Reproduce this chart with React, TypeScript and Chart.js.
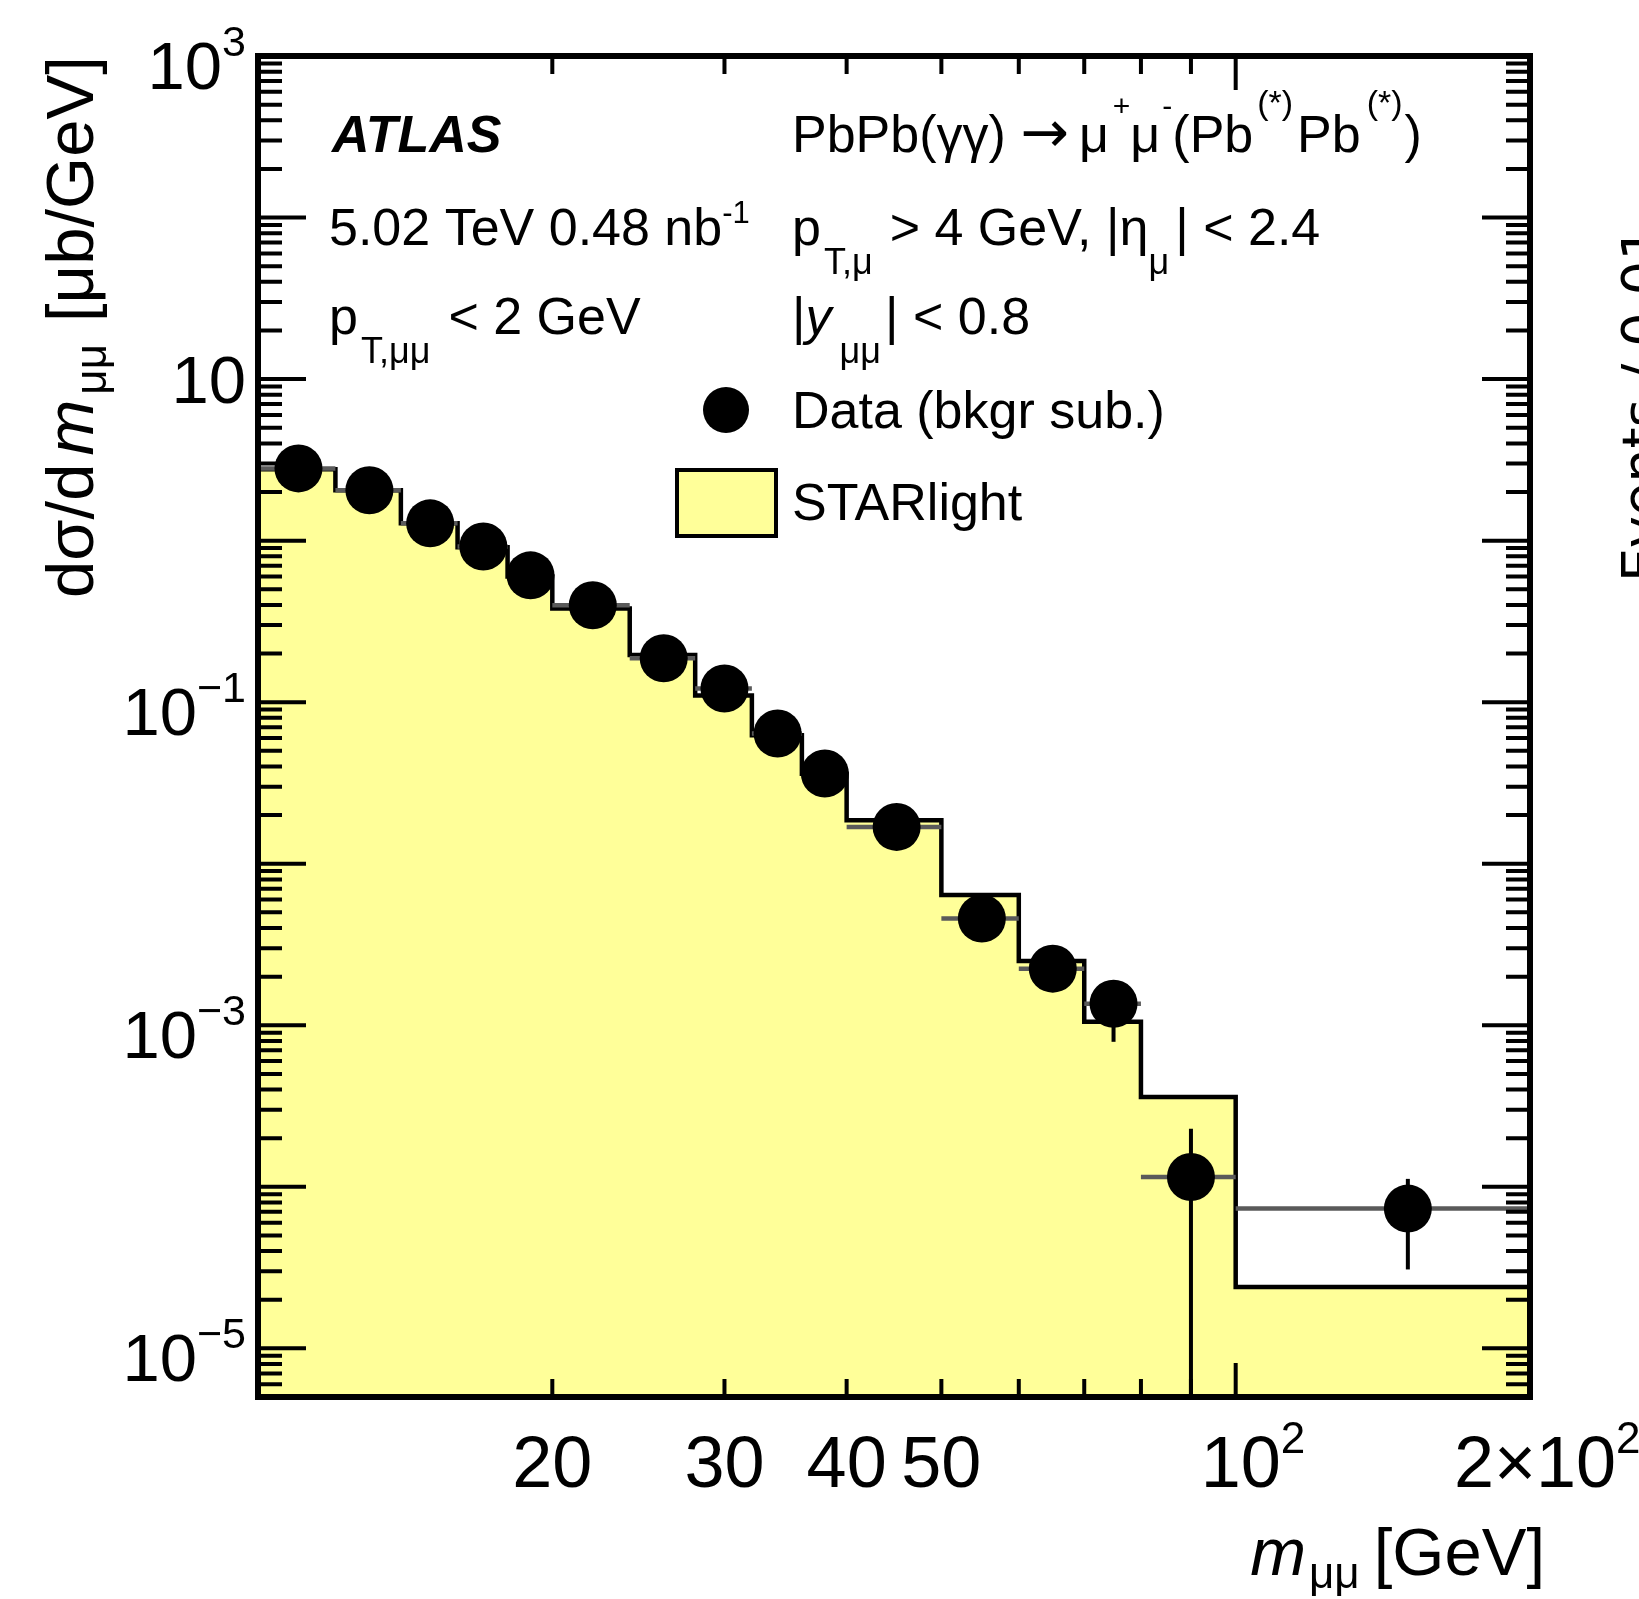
import React, { useEffect, useRef } from 'react';
import { Chart, registerables } from 'chart.js';

Chart.register(...registerables);

// ---------------- data ----------------
const binEdges = [10, 12, 14, 16, 18, 20, 24, 28, 32, 36, 40, 50, 60, 70, 80, 100, 200];
const starlight = [2.77, 2.05, 1.28, 0.91, 0.6, 0.38, 0.196, 0.11, 0.0625, 0.036, 0.0186, 0.0064, 0.0025, 0.00105, 0.00036, 0.000024];
const massCenters = [11, 13, 15, 17, 19, 22, 26, 30, 34, 38, 45, 55, 65, 75, 90, 150];
const dataValues = [2.8, 2.05, 1.28, 0.92, 0.61, 0.398, 0.187, 0.1216, 0.064, 0.0362, 0.0169, 0.00458, 0.00224, 0.00136, 0.000115, 0.0000733];
const dataHigh = [2.9, 2.13, 1.34, 0.97, 0.65, 0.425, 0.2, 0.131, 0.07, 0.04, 0.0188, 0.0052, 0.0026, 0.0019, 0.000229, 0.000112];
const dataLow = [2.7, 1.97, 1.22, 0.87, 0.57, 0.371, 0.174, 0.112, 0.058, 0.0324, 0.015, 0.0039, 0.00188, 0.00079, 0.0000001, 0.0000308];

const yDecades = [1e-5, 1e-4, 1e-3, 1e-2, 1e-1, 1, 10, 100, 1000];
const yMinorMult = [2, 3, 4, 5, 6, 7, 8, 9];
const yLabelValues = [1000, 10, 0.1, 0.001, 0.00001];
const yLabelMain = ['10', '10', '10', '10', '10'];
const yLabelSup = ['3', '', '\u22121', '\u22123', '\u22125'];
const xMinorTicks = [20, 30, 40, 50, 60, 70, 80, 90];
const xMajorTicks = [100];
const xLabelValues = [20, 30, 40, 50, 100, 200];
const xLabelMain = ['20', '30', '40', '50', '10', '2\u00d710'];
const xLabelSup = ['', '', '', '', '2', '2'];

const X_MIN = 10;
const X_MAX = 200;
const Y_MIN = 5e-6;
const Y_MAX = 1000;

const FILL = '#ffff99';
const FF = '"Liberation Sans", Arial, Helvetica, sans-serif';

type Part = { t: string; size: number; style?: string; dy?: number; gap?: number; family?: string };

function setFont(ctx: CanvasRenderingContext2D, size: number, style = '', family = FF) {
  ctx.font = `${style} ${size}px ${family}`.trim();
}

function partsWidth(ctx: CanvasRenderingContext2D, parts: Part[]) {
  let w = 0;
  for (const p of parts) {
    setFont(ctx, p.size, p.style, p.family);
    w += ctx.measureText(p.t).width + (p.gap || 0);
  }
  return w;
}

function drawParts(ctx: CanvasRenderingContext2D, x: number, y: number, parts: Part[]) {
  let cx = x;
  ctx.textAlign = 'left';
  ctx.textBaseline = 'alphabetic';
  for (const p of parts) {
    setFont(ctx, p.size, p.style, p.family);
    ctx.fillText(p.t, cx, y + (p.dy || 0));
    cx += ctx.measureText(p.t).width + (p.gap || 0);
  }
  return cx;
}

const T = 52; // annotation text size
const SUB = 36;
const SUBDY = 29;
const SUP = 34;

const overlayPlugin = {
  id: 'atlasOverlay',
  afterDatasetDraw(chart: any, args: any) {
    if (args.index !== 1) return;
    const ctx: CanvasRenderingContext2D = chart.ctx;
    const xs = chart.scales.x;
    const ys = chart.scales.y;
    const a = chart.chartArea;
    ctx.save();
    ctx.beginPath();
    ctx.rect(a.left, a.top, a.right - a.left, a.bottom - a.top);
    ctx.clip();
    // horizontal (bin width) error bars
    ctx.strokeStyle = '#5a5a5a';
    ctx.lineWidth = 4.5;
    for (let i = 0; i < massCenters.length; i++) {
      const py = ys.getPixelForValue(dataValues[i]);
      ctx.beginPath();
      ctx.moveTo(xs.getPixelForValue(binEdges[i]), py);
      ctx.lineTo(xs.getPixelForValue(binEdges[i + 1]), py);
      ctx.stroke();
    }
    // vertical error bars
    ctx.strokeStyle = '#000';
    ctx.lineWidth = 4;
    for (let i = 0; i < massCenters.length; i++) {
      const px = xs.getPixelForValue(massCenters[i]);
      ctx.beginPath();
      ctx.moveTo(px, ys.getPixelForValue(dataLow[i]));
      ctx.lineTo(px, ys.getPixelForValue(dataHigh[i]));
      ctx.stroke();
    }
    ctx.restore();
  },
  afterDatasetsDraw(chart: any) {
    const ctx: CanvasRenderingContext2D = chart.ctx;
    const xs = chart.scales.x;
    const ys = chart.scales.y;
    const a = chart.chartArea;
    ctx.save();
    ctx.fillStyle = '#000';
    ctx.strokeStyle = '#000';

    // ticks (inside the frame, on all four sides)
    ctx.lineWidth = 4;
    const yTick = (v: number, len: number) => {
      const py = ys.getPixelForValue(v);
      if (py < a.top - 0.5 || py > a.bottom + 0.5) return;
      ctx.beginPath();
      ctx.moveTo(a.left, py);
      ctx.lineTo(a.left + len, py);
      ctx.moveTo(a.right, py);
      ctx.lineTo(a.right - len, py);
      ctx.stroke();
    };
    for (const d of yDecades) {
      yTick(d, 48);
      for (const m of yMinorMult) yTick(d * m, 24);
    }
    for (const m of [5, 6, 7, 8, 9]) yTick(1e-6 * m, 24);
    const xTick = (v: number, len: number) => {
      const px = xs.getPixelForValue(v);
      ctx.beginPath();
      ctx.moveTo(px, a.bottom);
      ctx.lineTo(px, a.bottom - len);
      ctx.moveTo(px, a.top);
      ctx.lineTo(px, a.top + len);
      ctx.stroke();
    };
    for (const v of xMinorTicks) xTick(v, 18);
    for (const v of xMajorTicks) xTick(v, 34);

    // frame
    ctx.lineWidth = 6;
    ctx.strokeRect(a.left, a.top, a.right - a.left, a.bottom - a.top);

    // y tick labels
    for (let i = 0; i < yLabelValues.length; i++) {
      const py = ys.getPixelForValue(yLabelValues[i]);
      const hasSup = yLabelSup[i] !== '';
      const parts: Part[] = [{ t: yLabelMain[i], size: 67 }];
      if (hasSup) parts.push({ t: yLabelSup[i], size: 43, dy: -33 });
      const w = partsWidth(ctx, parts);
      drawParts(ctx, a.left - 12 - w, py + 24 + (hasSup ? 9 : 0), parts);
    }
    // x tick labels
    for (let i = 0; i < xLabelValues.length; i++) {
      const px = xs.getPixelForValue(xLabelValues[i]);
      setFont(ctx, 72);
      const wm = ctx.measureText(xLabelMain[i]).width;
      const parts: Part[] = [{ t: xLabelMain[i], size: 72 }];
      if (xLabelSup[i]) parts.push({ t: xLabelSup[i], size: 44, dy: -34 });
      drawParts(ctx, px - wm / 2 + (xLabelSup[i] ? 5 : 0), a.bottom + 90, parts);
    }

    // axis titles
    const xTitle: Part[] = [
      { t: 'm', size: 67, style: 'italic', gap: 3 },
      { t: '\u03bc\u03bc', size: 44, dy: 13, gap: 14 },
      { t: '[GeV]', size: 67 },
    ];
    const xtw = partsWidth(ctx, xTitle);
    drawParts(ctx, 1545 - xtw, a.bottom + 178, xTitle);

    const yTitle: Part[] = [
      { t: 'd\u03c3/d', size: 67, gap: 8 },
      { t: 'm', size: 67, style: 'italic', gap: 5 },
      { t: '\u03bc\u03bc', size: 44, dy: 13, gap: 22 },
      { t: '[\u03bcb/GeV]', size: 67 },
    ];
    ctx.save();
    ctx.translate(93, 598);
    ctx.rotate(-Math.PI / 2);
    drawParts(ctx, 0, 0, yTitle);
    ctx.restore();

    // annotation texts
    setFont(ctx, T, 'italic bold');
    ctx.fillText('ATLAS', 332, 152);

    drawParts(ctx, 792, 152, [
      { t: 'PbPb(\u03b3\u03b3) ', size: T },
      { t: '\u2192', size: 58, family: '"DejaVu Sans", sans-serif', gap: 10 },
      { t: '\u03bc', size: T, gap: 4 },
      { t: '+', size: 30, dy: -36 },
      { t: '\u03bc', size: T, gap: 2 },
      { t: '-', size: 30, dy: -36 },
      { t: '(Pb', size: T, gap: 4 },
      { t: '(*)', size: SUP, dy: -38, gap: 4 },
      { t: 'Pb', size: T, gap: 6 },
      { t: '(*)', size: SUP, dy: -38, gap: 2 },
      { t: ')', size: T },
    ]);
    drawParts(ctx, 329, 245, [
      { t: '5.02 TeV 0.48 nb', size: T },
      { t: '-1', size: 31, dy: -22 },
    ]);
    drawParts(ctx, 792, 245, [
      { t: 'p', size: T, gap: 3 },
      { t: 'T,\u03bc', size: SUB, dy: SUBDY, gap: 17 },
      { t: '> 4 GeV, |\u03b7', size: T },
      { t: '\u03bc', size: SUB, dy: SUBDY, gap: 6 },
      { t: '| < 2.4', size: T },
    ]);
    drawParts(ctx, 329, 334, [
      { t: 'p', size: T, gap: 3 },
      { t: 'T,\u03bc\u03bc', size: SUB, dy: SUBDY, gap: 18 },
      { t: '< 2 GeV', size: T },
    ]);
    drawParts(ctx, 792, 334, [
      { t: '|', size: T },
      { t: 'y', size: T, style: 'italic', gap: 8 },
      { t: '\u03bc\u03bc', size: SUB, dy: SUBDY, gap: 4 },
      { t: '| < 0.8', size: T },
    ]);

    // legend
    ctx.beginPath();
    ctx.arc(726, 410, 23, 0, Math.PI * 2);
    ctx.fill();
    drawParts(ctx, 792, 428, [{ t: 'Data (bkgr sub.)', size: T }]);
    ctx.fillStyle = FILL;
    ctx.fillRect(677, 470, 99, 66);
    ctx.lineWidth = 4;
    ctx.strokeStyle = '#000';
    ctx.strokeRect(677, 470, 99, 66);
    ctx.fillStyle = '#000';
    drawParts(ctx, 792, 520, [{ t: 'STARlight', size: T }]);

    // clipped neighbouring-panel title at the right edge
    ctx.save();
    ctx.font = '54px "DejaVu Sans", sans-serif';
    ctx.translate(1621 + 54 * 0.729, 582);
    ctx.rotate(-Math.PI / 2);
    ctx.fillText('Events / 0.01', 0, 0);
    ctx.restore();

    ctx.restore();
  },
};

export default function App() {
  const ref = useRef<HTMLCanvasElement | null>(null);
  useEffect(() => {
    const canvas = ref.current;
    if (!canvas) return;
    const histPoints = binEdges.slice(0, -1).map((x, i) => ({ x, y: starlight[i] }));
    histPoints.push({ x: binEdges[binEdges.length - 1], y: starlight[starlight.length - 1] });
    const chart = new Chart(canvas, {
      type: 'scatter',
      data: {
        datasets: [
          {
            type: 'scatter',
            label: 'Data (bkgr sub.)',
            data: massCenters.map((x, i) => ({ x, y: dataValues[i] })),
            pointRadius: 24,
            pointHoverRadius: 24,
            backgroundColor: '#000',
            borderWidth: 0,
            order: 0,
          },
          {
            type: 'line',
            label: 'STARlight',
            data: histPoints,
            stepped: 'before',
            fill: 'start',
            backgroundColor: FILL,
            borderColor: '#000',
            borderWidth: 4.5,
            pointRadius: 0,
            order: 1,
          } as any,
        ],
      },
      options: {
        responsive: false,
        animation: false,
        devicePixelRatio: 1,
        events: [],
        layout: { padding: { left: 258, top: 56, right: 109, bottom: 202 } },
        scales: {
          x: { type: 'logarithmic', min: X_MIN, max: X_MAX, display: false, bounds: 'data' } as any,
          y: { type: 'logarithmic', min: Y_MIN, max: Y_MAX, display: false, bounds: 'data' } as any,
        },
        plugins: { legend: { display: false }, tooltip: { enabled: false } },
      },
      plugins: [overlayPlugin as any],
    });
    return () => chart.destroy();
  }, []);
  return (
    <div style={{ position: 'absolute', left: 0, top: 0, width: 1639, height: 1599, background: '#fff' }}>
      <canvas ref={ref} width={1639} height={1599} style={{ display: 'block' }} />
    </div>
  );
}
